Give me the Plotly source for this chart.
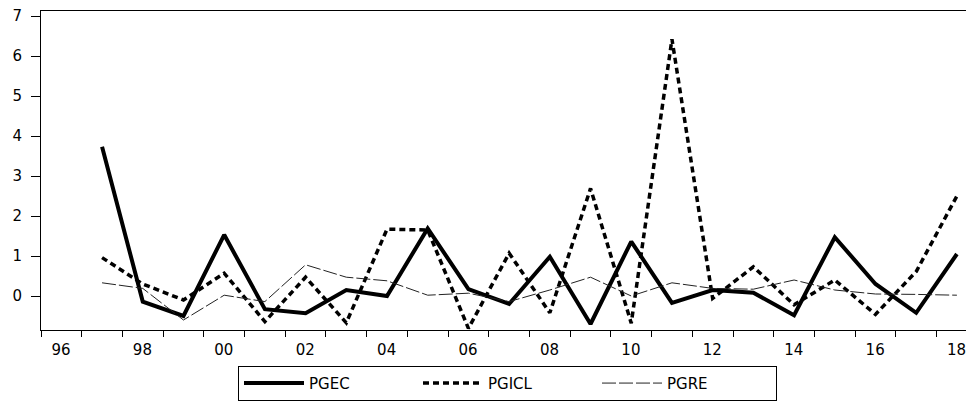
import plotly.graph_objects as go

years = list(range(1997, 2019))

pgec = [3.73, -0.14, -0.50, 1.53, -0.33, -0.43, 0.15, 0.00, 1.69, 0.17, -0.20,
        0.98, -0.70, 1.36, -0.17, 0.15, 0.08, -0.48, 1.47, 0.30, -0.42, 1.05]
pgicl = [0.96, 0.30, -0.10, 0.57, -0.64, 0.47, -0.67, 1.67, 1.65, -0.81, 1.07,
         -0.42, 2.69, -0.68, 6.42, -0.06, 0.73, -0.22, 0.40, -0.46, 0.61, 2.50]
pgre = [0.33, 0.19, -0.60, 0.02, -0.14, 0.78, 0.47, 0.38, 0.02, 0.07, -0.14,
        0.15, 0.47, 0.00, 0.33, 0.19, 0.17, 0.40, 0.15, 0.05, 0.04, 0.02]

label_years = list(range(1996, 2019, 2))
label_text = [f"{y % 100:02d}" for y in label_years]
y_ticks = list(range(0, 8))

font_family = "DejaVu Sans, Arial, sans-serif"

fig = go.Figure()
fig.add_trace(go.Scatter(x=years, y=pgec, name="PGEC", mode="lines",
                         line=dict(color="black", width=4)))
fig.add_trace(go.Scatter(x=years, y=pgicl, name="PGICL", mode="lines",
                         line=dict(color="black", width=3.5, dash="6px,4px")))
fig.add_trace(go.Scatter(x=years, y=pgre, name="PGRE", mode="lines",
                         line=dict(color="#222222", width=1, dash="14px,3px")))

fig.update_layout(
    width=966, height=394,
    margin=dict(l=33, r=0, t=3, b=72, autoexpand=False),
    paper_bgcolor="white", plot_bgcolor="white",
    font=dict(family=font_family, size=15, color="black"),
    showlegend=True,
    legend=dict(orientation="h", x=0.5, xanchor="center",
                yref="container", y=0.003, yanchor="bottom",
                bordercolor="black", borderwidth=1, entrywidth=104,
                font=dict(size=15, family=font_family), itemwidth=60,
                tracegroupgap=0),
    xaxis=dict(
        range=[1995.5, 2018.42],
        tickmode="array",
        tickvals=[y - 0.5 for y in label_years],
        ticktext=label_text,
        ticklabelshift=20,
        ticks="outside", ticklen=6, tickcolor="black", tickwidth=1,
        minor=dict(tickmode="linear", tick0=1995.5, dtick=1, ticks="outside",
                   ticklen=6, tickcolor="black", tickwidth=1, showgrid=False),
        showline=True, linecolor="black", linewidth=1, mirror=True,
        showgrid=False, zeroline=False, automargin=False,
        ticklabeloverflow="allow",
        tickfont=dict(size=15),
    ),
    yaxis=dict(
        range=[-0.85, 7.125],
        tickmode="array", tickvals=y_ticks,
        ticks="outside", ticklen=9, tickcolor="black", tickwidth=1,
        ticklabelstandoff=6,
        showline=True, linecolor="black", linewidth=1,
        showgrid=False, zeroline=False, automargin=False,
        ticklabeloverflow="allow",
        tickfont=dict(size=15),
    ),
)

fig.write_html("out.html")
